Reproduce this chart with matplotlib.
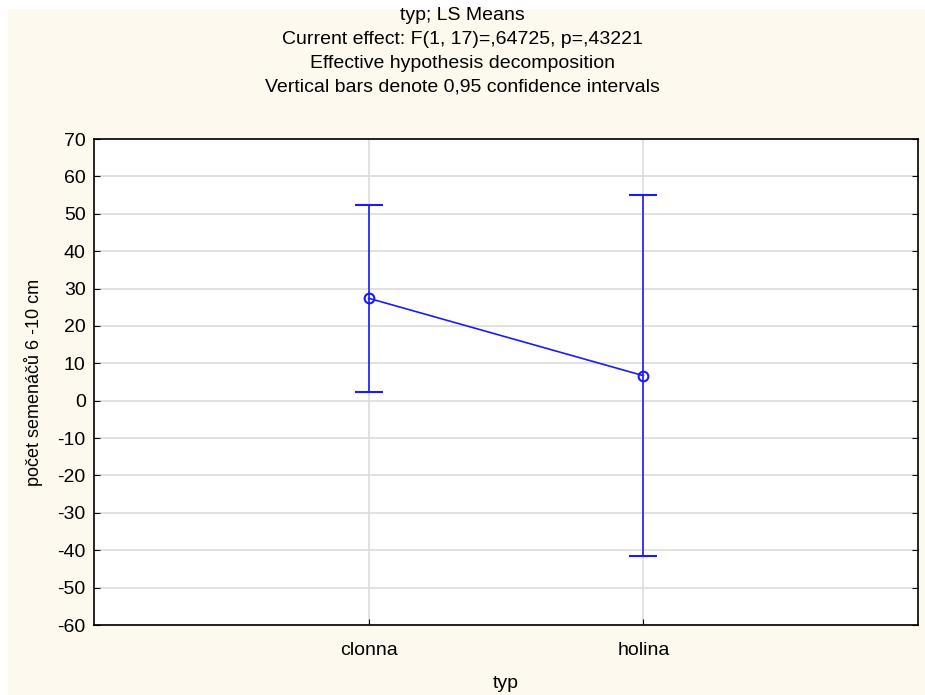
import numpy as np
import matplotlib.pyplot as plt
from matplotlib.patches import Rectangle

plt.rcParams['font.family'] = ['Liberation Sans', 'DejaVu Sans']
plt.rcParams['axes.unicode_minus'] = False

# LS means for typ with 0,95 confidence limits
categories = ['clonna', 'holina']
means = [27.4, 6.7]
ci_low = [2.4, -41.6]
ci_high = [52.4, 55.0]

title_lines = ['typ; LS Means',
               'Current effect: F(1, 17)=,64725, p=,43221',
               'Effective hypothesis decomposition',
               'Vertical bars denote 0,95 confidence intervals']

W, H = 925, 695
fig = plt.figure(figsize=(W / 100, H / 100), dpi=100, facecolor='white')
# cream background, white strip left and top
fig.patches.append(Rectangle((8 / W, 0), 1 - 8 / W, (H - 9) / H,
                             transform=fig.transFigure, facecolor='#fdf9ee',
                             edgecolor='none', zorder=-5))

ax = fig.add_axes([94 / W, (H - 625) / H, (918 - 94) / W, (625 - 139) / H])
ax.set_facecolor('white')

x = np.arange(len(categories))
m = np.array(means)
err = [m - np.array(ci_low), np.array(ci_high) - m]
blue = '#1a1aff'
ax.errorbar(x, m, yerr=err, color=blue, lw=1.2, elinewidth=1.2,
            capsize=10, capthick=1.2, marker='o', markersize=7,
            markerfacecolor='none', markeredgecolor=blue, markeredgewidth=1.5,
            zorder=3)

ax.set_xlim(-1, 2)
ax.set_ylim(-60, 70)
ax.set_yticks(np.arange(-60, 71, 10))
ax.set_xticks(x)
ax.set_xticklabels(categories)
ax.grid(True, color='#dcdcdc', lw=1.2, zorder=0)
ax.set_axisbelow(True)
ax.tick_params(direction='in', length=4, labelsize=14, right=True,
               colors='black', pad=6)
ax.tick_params(axis='x', pad=12)
for s in ax.spines.values():
    s.set_linewidth(1.2)

ax.set_xlabel('typ', fontsize=14, labelpad=12)
ax.set_ylabel('počet semenáčů 6 -10 cm', fontsize=13, labelpad=10)

for i, t in enumerate(title_lines):
    fig.text(0.5, 1 - (15 + 24 * i) / H, t, ha='center', va='center',
             fontsize=14)

fig.savefig('out.png', dpi=100, facecolor=fig.get_facecolor())
